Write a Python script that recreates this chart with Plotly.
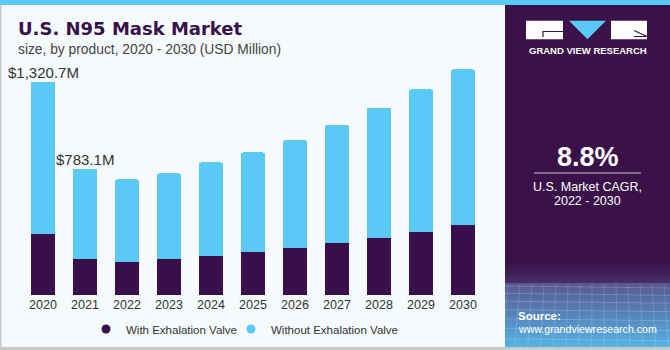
import plotly.graph_objects as go

years = ["2020", "2021", "2022", "2023", "2024", "2025", "2026", "2027", "2028", "2029", "2030"]
with_valve = [378, 223, 206, 221, 241, 268, 293, 322, 353, 388, 433]
totals = [1320.7, 783.1, 716, 753, 821, 883, 959, 1052, 1159, 1273, 1397]
without_valve = [round(t - w, 1) for t, w in zip(totals, with_valve)]
labels = {"2020": "$1,320.7M", "2021": "$783.1M"}

W, H = 670, 350
def px(x): return x / W
def py(y): return 1 - y / H

DARK = "#380f4a"
BLUE = "#5bc9f6"
PANEL = "#3a1249"
BG = "#f5fafd"
FONT = "Liberation Sans, Arial, sans-serif"

fig = go.Figure()
fig.add_trace(go.Bar(x=years, y=with_valve, marker_color=DARK, showlegend=False,
                     marker_line_width=0, hoverinfo="skip"))
fig.add_trace(go.Bar(x=years, y=without_valve, marker_color=BLUE, showlegend=False,
                     marker_line_width=0, hoverinfo="skip"))
fig.add_trace(go.Scatter(x=[None], y=[None], mode="markers", name="With Exhalation Valve",
                         xaxis="x2", yaxis="y2",
                         marker=dict(color=DARK, size=9, symbol="circle")))
fig.add_trace(go.Scatter(x=[None], y=[None], mode="markers", name="Without Exhalation Valve",
                         xaxis="x2", yaxis="y2",
                         marker=dict(color=BLUE, size=9, symbol="circle")))
# spacer entry so the second legend item is not clipped
fig.add_trace(go.Scatter(x=[None], y=[None], mode="markers", name=" ",
                         xaxis="x2", yaxis="y2",
                         marker=dict(color="rgba(0,0,0,0)", size=1)))

shapes = []
shapes.append(dict(type="rect", xref="paper", yref="paper", x0=0, x1=1, y0=py(5), y1=1,
                   fillcolor=BLUE, line_width=0, layer="below"))
shapes.append(dict(type="rect", xref="paper", yref="paper", x0=0, x1=px(1.5), y0=0, y1=py(5),
                   fillcolor="#c9c9c9", line_width=0, layer="below"))
shapes.append(dict(type="rect", xref="paper", yref="paper", x0=0, x1=1, y0=0, y1=py(347),
                   fillcolor="#c9c9c9", line_width=0, layer="below"))
shapes.append(dict(type="rect", xref="paper", yref="paper", x0=px(505), x1=1, y0=py(347), y1=py(5),
                   fillcolor=PANEL, line_width=0, layer="below"))
def lerp(c1, c2, t):
    return "rgb(%d,%d,%d)" % tuple(round(a + (b - a) * t) for a, b in zip(c1, c2))
n1 = 10
for i in range(n1):
    y0 = 262 + i * 2.1
    shapes.append(dict(type="rect", xref="paper", yref="paper", x0=px(505), x1=1,
                       y0=py(y0 + 2.2), y1=py(y0), fillcolor=lerp((58, 18, 73), (72, 48, 110), i / n1),
                       line_width=0, layer="below"))
n2 = 32
for i in range(n2):
    y0 = 283 + i * 2
    shapes.append(dict(type="rect", xref="paper", yref="paper", x0=px(505), x1=1,
                       y0=py(min(y0 + 2.1, 347)), y1=py(y0),
                       fillcolor=lerp((88, 88, 145), (84, 178, 228), i / (n2 - 1)),
                       line_width=0, layer="below"))
for k in range(9):
    yy = 286 + k * 7 + k * k * 0.3
    shapes.append(dict(type="line", xref="paper", yref="paper", x0=px(505), x1=1,
                       y0=py(yy), y1=py(yy + 2), line=dict(color="rgba(255,255,255,0.18)", width=1)))
for k in range(14):
    xx = 508 + k * 12
    shapes.append(dict(type="line", xref="paper", yref="paper", x0=px(xx), x1=px(xx - 6 + k * 0.8),
                       y0=py(284), y1=py(347), line=dict(color="rgba(255,255,255,0.15)", width=1)))
# logo
shapes.append(dict(type="rect", xref="paper", yref="paper", x0=px(526), x1=px(563), y0=py(39.3), y1=py(20.7),
                   fillcolor="white", line_width=0))
shapes.append(dict(type="path", xref="paper", yref="paper",
                   path="M %f,%f L %f,%f L %f,%f" % (px(543), py(37), px(543), py(31.5), px(563), py(31.5)),
                   line=dict(color=PANEL, width=1.2)))
shapes.append(dict(type="path", xref="paper", yref="paper",
                   path="M %f,%f L %f,%f L %f,%f Z" % (px(569), py(20.7), px(606), py(20.7), px(587.5), py(39.3)),
                   fillcolor=BLUE, line_width=0))
shapes.append(dict(type="rect", xref="paper", yref="paper", x0=px(611), x1=px(647), y0=py(39.3), y1=py(20.7),
                   fillcolor="white", line_width=0))
shapes.append(dict(type="path", xref="paper", yref="paper",
                   path="M %f,%f L %f,%f L %f,%f" % (px(634), py(30.5), px(647), py(36.5), px(634), py(36.5)),
                   line=dict(color=PANEL, width=1.1)))
shapes.append(dict(type="line", xref="paper", yref="paper", x0=px(534), x1=px(641), y0=py(173), y1=py(173),
                   line=dict(color="#c8c0cf", width=1.2)))

ann = []
def text(x, y, s, size, color, bold=False, xanchor="left", family=FONT):
    ann.append(dict(xref="paper", yref="paper", x=px(x), y=py(y), text=("<b>%s</b>" % s) if bold else s,
                    showarrow=False, xanchor=xanchor, yanchor="middle",
                    font=dict(size=size, color=color, family=family)))

text(16, 29, "U.S. N95 Mask Market", 18, "#38114a", bold=True, family="DejaVu Sans, sans-serif")
text(16, 49, "size, by product, 2020 - 2030 (USD Million)", 13.8, "#444444")
text(587.5, 51, "GRAND VIEW RESEARCH", 9.5, "white", bold=True, xanchor="center")
text(587.5, 157, "8.8%", 27, "white", bold=True, xanchor="center")
text(587.5, 187, "U.S. Market CAGR,", 12.5, "white", xanchor="center")
text(587.5, 201, "2022 - 2030", 12.5, "white", xanchor="center")
text(516, 316, "Source:", 11.5, "white", bold=True)
text(516, 329, "www.grandviewresearch.com", 10.6, "white")

for yr, lab in labels.items():
    i = years.index(yr)
    ann.append(dict(x=i, y=totals[i], xref="x", yref="y", text=lab, showarrow=False,
                    xanchor="center", yanchor="bottom", yshift=-1,
                    font=dict(size=15, color="#333333", family=FONT)))

fig.update_layout(
    width=W, height=H, margin=dict(l=0, r=0, t=0, b=0),
    paper_bgcolor=BG, plot_bgcolor="rgba(0,0,0,0)",
    barmode="stack", bargap=0.43, barcornerradius=2,
    shapes=shapes, annotations=ann,
    font=dict(family=FONT, color="#333333"),
    xaxis=dict(domain=[px(22), px(484)], type="category", range=[-0.5, 10.5], showgrid=False,
               showline=False, zeroline=False, ticks="", tickfont=dict(size=12.5, color="#333333"),
               fixedrange=True),
    yaxis=dict(domain=[py(295), py(52.7)], range=[0, 1500], showgrid=False, showline=False,
               zeroline=False, showticklabels=False, fixedrange=True),
    xaxis2=dict(domain=[0, 0.01], anchor="y2", visible=False, range=[0, 1]),
    yaxis2=dict(domain=[0, 0.01], anchor="x2", visible=False, range=[0, 1]),
    legend=dict(orientation="h", x=px(86), xanchor="left", y=py(329), yanchor="middle",
                font=dict(size=11.5, color="#333333"), bgcolor="rgba(0,0,0,0)",
                traceorder="normal", entrywidth=100, itemclick=False),
    showlegend=True,
)

fig.write_html("out.html")
